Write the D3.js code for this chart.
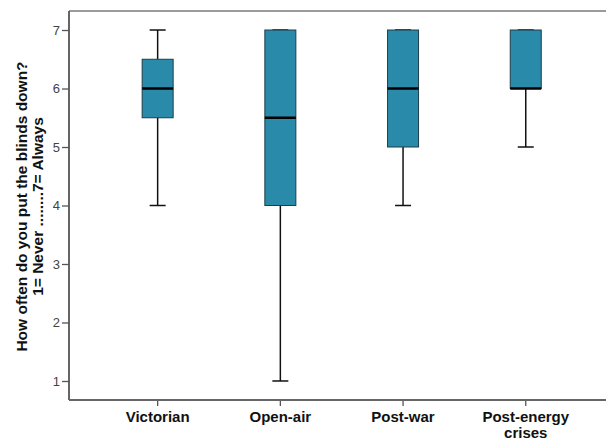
<!DOCTYPE html>
<html><head><meta charset="utf-8">
<script src="https://cdn.jsdelivr.net/npm/d3@7"></script>
<style>body{margin:0;background:#fff}svg{display:block}</style>
</head><body><svg id="c" width="606" height="441"></svg>
<script>
const categories = ["Victorian", "Open-air", "Post-war", "Post-energy crises"];
const mins    = [4, 1,   4, 5];
const q1s     = [5.5, 4, 5, 6];
const medians = [6, 5.5, 6, 6];
const q3s     = [6.5, 7, 7, 7];
const maxs    = [7, 7,   7, 7];
const yTicks  = [1, 2, 3, 4, 5, 6, 7];
const yTitle  = ["How often do you put the blinds down?", "1= Never ........7= Always"];

const svg = d3.select("#c");
const L = 69, T = 11, B = 400, R = 606;
const y = d3.scaleLinear().domain([0.675, 7.325]).range([B, T]);
const x = d3.scaleBand().domain(categories).range([96.3, 587.1]);
const cx = d => x(d) + x.bandwidth() / 2;
const boxW = 31, capW = 16;
const fill = "#2a8aaa";
const FF = "Liberation Sans, Arial, sans-serif";

// frame
svg.append("line").attr("x1", L).attr("x2", R).attr("y1", T).attr("y2", T).attr("stroke", "#7a7a7a").attr("stroke-width", 1.5);

// y axis
const ya = svg.append("g").attr("transform", `translate(${L},0)`)
  .call(d3.axisLeft(y).tickValues(yTicks).tickSize(7).tickPadding(2).tickFormat(d3.format("d")));
ya.select(".domain").remove();
ya.selectAll(".tick line").attr("stroke", "#555").attr("stroke-width", 1.3);
ya.selectAll("text").attr("font-family", FF).attr("font-size", 13).attr("fill", "#444");
svg.append("line").attr("x1", L).attr("x2", L).attr("y1", T).attr("y2", B).attr("stroke", "#555").attr("stroke-width", 1.8);

// x axis
const xa = svg.append("g").attr("transform", `translate(0,${B})`)
  .call(d3.axisBottom(x).tickSize(6).tickFormat(""));
xa.select(".domain").remove();
xa.selectAll(".tick line").attr("stroke", "#555").attr("stroke-width", 1.3);
svg.append("line").attr("x1", L).attr("x2", R).attr("y1", B).attr("y2", B).attr("stroke", "#666").attr("stroke-width", 1.8);

// x labels
categories.forEach(c => {
  const words = c === "Post-energy crises" ? ["Post-energy", "crises"] : [c];
  const t = svg.append("text").attr("x", cx(c)).attr("y", 422).attr("text-anchor", "middle")
    .attr("font-family", FF).attr("font-size", 15).attr("font-weight", "bold").attr("fill", "#111");
  words.forEach((w, i) => t.append("tspan").attr("x", cx(c)).attr("dy", i ? 16 : 0).text(w));
});

// y title
const yt = svg.append("text").attr("transform", "translate(0,206.5) rotate(-90)")
  .attr("text-anchor", "middle").attr("font-family", FF)
  .attr("font-size", 15.5).attr("font-weight", "bold").attr("fill", "#111");
yTitle.forEach((s, i) => yt.append("tspan").attr("x", 0).attr("y", 27 + i * 16).text(s));

// boxes
const g = svg.append("g");
categories.forEach((c, i) => {
  const xc = cx(c);
  g.append("line").attr("x1", xc).attr("x2", xc).attr("y1", y(maxs[i])).attr("y2", y(q3s[i])).attr("stroke", "#111").attr("stroke-width", 1.5);
  g.append("line").attr("x1", xc).attr("x2", xc).attr("y1", y(q1s[i])).attr("y2", y(mins[i])).attr("stroke", "#111").attr("stroke-width", 1.5);
  [mins[i], maxs[i]].forEach(v => g.append("line").attr("x1", xc - capW / 2).attr("x2", xc + capW / 2).attr("y1", y(v)).attr("y2", y(v)).attr("stroke", "#111").attr("stroke-width", 1.5));
  g.append("rect").attr("x", xc - boxW / 2).attr("width", boxW).attr("y", y(q3s[i])).attr("height", y(q1s[i]) - y(q3s[i]))
    .attr("fill", fill).attr("stroke", "#1d3d4a").attr("stroke-width", 1);
  g.append("line").attr("x1", xc - boxW / 2).attr("x2", xc + boxW / 2).attr("y1", y(medians[i])).attr("y2", y(medians[i])).attr("stroke", "#000").attr("stroke-width", 2.5);
});
</script></body></html>
